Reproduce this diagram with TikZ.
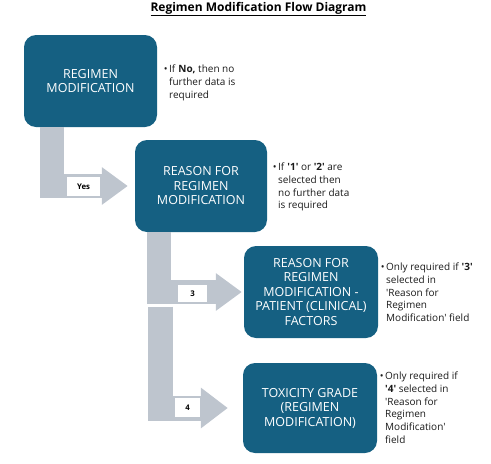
\documentclass[tikz,border=0pt]{standalone}
\usepackage{fontspec}
\setmainfont{Open Sans}
\usetikzlibrary{arrows.meta}
\definecolor{boxblue}{HTML}{156082}
\definecolor{arrowgray}{HTML}{BEC5CE}
\definecolor{notetext}{HTML}{1A1A1A}
\newcommand{\sq}{\textquotesingle}
\tikzset{
  flowbox/.style={fill=boxblue, rounded corners=12pt, text=white, align=center,
    font=\fontsize{12.5}{14.5}\selectfont, inner sep=0pt},
  bentarrow/.style={draw=arrowgray, line join=miter},
  choice/.style={fill=white, font=\fontsize{7.8}{8}\selectfont\bfseries, inner sep=0pt, text=black},
  note/.style={anchor=north west, align=left, inner sep=0pt, text=notetext,
    font=\fontsize{10}{12.7}\selectfont},
}
\begin{document}
\begin{tikzpicture}[x=1pt,y=-1pt]
\useasboundingbox (0,0) rectangle (491,464);
\node[font=\fontsize{12}{14}\selectfont\bfseries] (title) at (258.5,9) {\underline{Regimen Modification Flow Diagram}};

\node[flowbox, minimum width=133pt, minimum height=92pt] (b1) at (90.5,81) {REGIMEN\\MODIFICATION};
\node[flowbox, minimum width=132pt, minimum height=92pt] (b2) at (201,186) {REASON FOR\\REGIMEN\\MODIFICATION};
\node[flowbox, minimum width=134pt, minimum height=92pt] (b3) at (311,292) {REASON FOR\\REGIMEN\\MODIFICATION -\\PATIENT (CLINICAL)\\FACTORS};
\node[flowbox, minimum width=134pt, minimum height=90pt] (b4) at (310,408) {TOXICITY GRADE\\(REGIMEN\\MODIFICATION)};

% bent arrows
\draw[bentarrow, line width=24pt, shorten >=7pt, -{Triangle[length=26pt,width=36pt]}]
  ([xshift=-38.5pt]b1.south) |- (b2.west);
\coordinate (a3start) at (160,306.5);
\draw[bentarrow, line width=25pt, shorten >=15pt, -{Triangle[length=27pt,width=39pt]}]
  (a3start) |- (b4.west);
\draw[bentarrow, line width=24pt, shorten >=2pt, -{Triangle[length=26pt,width=36pt]}]
  ([xshift=-42pt]b2.south) |- (b3.west);

% choice labels
\node[choice, minimum width=33pt, minimum height=19pt] (yes) at (83.5,186.5) {Yes};
\node[choice, minimum width=29pt, minimum height=17pt] (three) at (192.5,293.5) {3};
\node[choice, minimum width=25pt, minimum height=19pt] (four) at (187.5,407.5) {4};

% notes
\node[note] (n1) at (169,65) {\llap{\textbullet\hspace{1.5pt}}If \textbf{No,} then no\\further data is\\required};
\node[note] (n2) at (278,163) {\llap{\textbullet\hspace{1.5pt}}If \textbf{\sq1\sq} or \textbf{\sq2\sq} are\\selected then\\no further data\\is required};
\node[note] (n3) at (386,263) {\llap{\textbullet\hspace{1.5pt}}Only required if \textbf{\sq3\sq}\\selected in\\\sq Reason for\\Regimen\\Modification\sq\ field};
\node[note] (n4) at (385,372) {\llap{\textbullet\hspace{1.5pt}}Only required if\\\textbf{\sq4\sq} selected in\\\sq Reason for\\Regimen\\Modification\sq\\field};
\end{tikzpicture}
\end{document}
